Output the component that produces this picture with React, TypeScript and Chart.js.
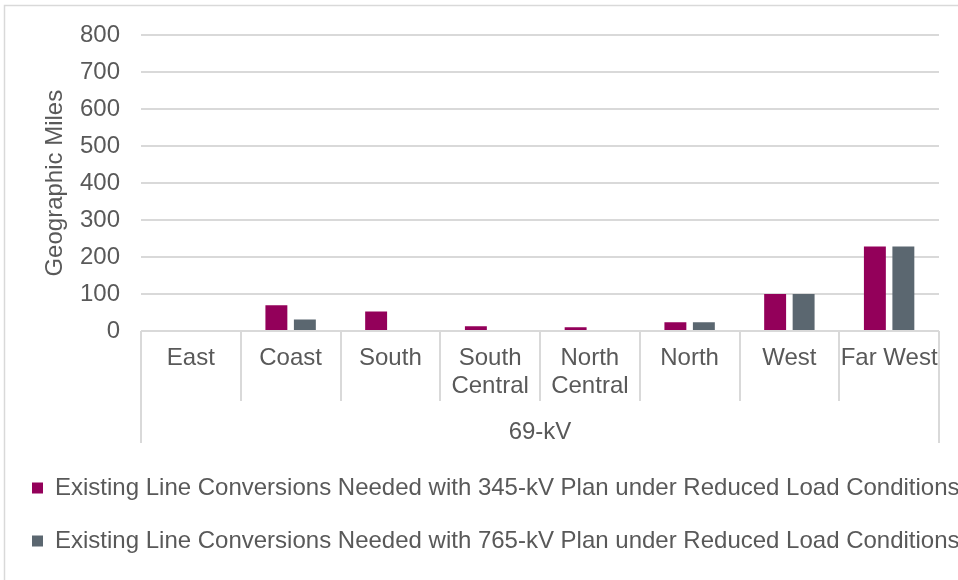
import React, { useEffect, useRef } from "react";
import { Chart, registerables } from "chart.js";

Chart.register(...registerables);

const categories: (string | string[])[] = [
  "East",
  "Coast",
  "South",
  ["South", "Central"],
  ["North", "Central"],
  "North",
  "West",
  "Far West",
];
const plan345: number[] = [0, 70, 53, 13, 10, 24, 100, 229];
const plan765: number[] = [0, 31, 0, 0, 0, 24, 100, 229];
const seriesNames: string[] = [
  "Existing Line Conversions Needed with 345-kV Plan under Reduced Load Conditions",
  "Existing Line Conversions Needed with 765-kV Plan under Reduced Load Conditions",
];
const groupLabel = "69-kV";
const yTitle = "Geographic Miles";
const yMin = 0;
const yMax = 800;
const yStep = 100;

const FONT = "'Liberation Sans', Arial, sans-serif";
const TEXT = "#595959";
const GRID = "#d9d9d9";

const frame = {
  id: "frame",
  beforeDraw(chart: any) {
    const ctx = chart.ctx;
    ctx.save();
    ctx.strokeStyle = GRID;
    ctx.lineWidth = 1.5;
    ctx.beginPath();
    ctx.moveTo(4.5, chart.height);
    ctx.lineTo(4.5, 5.5);
    ctx.lineTo(chart.width, 5.5);
    ctx.stroke();
    ctx.restore();
  },
  afterDraw(chart: any) {
    const x = chart.scales.x;
    const ctx = chart.ctx;
    const top = x.top;
    ctx.save();
    ctx.strokeStyle = GRID;
    ctx.lineWidth = 2;
    ctx.beginPath();
    for (let i = 1; i < categories.length; i++) {
      const px = Math.round((x.getPixelForValue(i - 1) + x.getPixelForValue(i)) / 2);
      ctx.moveTo(px, top);
      ctx.lineTo(px, top + 70);
    }
    ctx.moveTo(x.left, top);
    ctx.lineTo(x.left, top + 112);
    ctx.moveTo(x.right, top);
    ctx.lineTo(x.right, top + 112);
    ctx.stroke();
    ctx.restore();
  },
};

export default function App() {
  const ref = useRef<HTMLCanvasElement>(null);
  useEffect(() => {
    document.body.style.margin = "0";
    const chart = new Chart(ref.current!, {
      type: "bar",
      data: {
        labels: categories,
        datasets: [
          {
            label: seriesNames[0],
            data: plan345,
            backgroundColor: "#93005A",
            categoryPercentage: 0.571,
            barPercentage: 0.77,
          },
          {
            label: seriesNames[1],
            data: plan765,
            backgroundColor: "#5B6770",
            categoryPercentage: 0.571,
            barPercentage: 0.77,
          },
        ],
      },
      options: {
        animation: false,
        responsive: false,
        layout: { padding: { left: 3, right: 0, top: 34, bottom: 17 } },
        plugins: {
          tooltip: { enabled: false },
          legend: {
            position: "bottom",
            align: "start",
            labels: {
              boxWidth: 11,
              boxHeight: 11,
              padding: 29,
              color: TEXT,
              font: { family: FONT, size: 24 },
            },
          },
        },
        scales: {
          x: {
            grid: { display: false, drawTicks: false },
            border: { display: false },
            ticks: {
              color: TEXT,
              padding: 13,
              maxRotation: 0,
              autoSkip: false,
              font: { family: FONT, size: 24, lineHeight: 1.167 },
            },
            title: {
              display: true,
              text: groupLabel,
              color: TEXT,
              font: { family: FONT, size: 24 },
              padding: { top: 0, bottom: 0 },
            },
            afterFit(scale: any) {
              scale.height = 116;
            },
          },
          y: {
            min: yMin,
            max: yMax,
            grid: { color: GRID, lineWidth: 2, drawTicks: false },
            border: { display: false },
            ticks: {
              stepSize: yStep,
              color: TEXT,
              padding: 21,
              font: { family: FONT, size: 24 },
            },
            title: {
              display: true,
              text: yTitle,
              color: TEXT,
              font: { family: FONT, size: 24 },
              padding: { top: 38, bottom: 0 },
            },
            afterFit(scale: any) {
              scale.width = 138;
            },
          },
          yRight: {
            position: "right",
            min: yMin,
            max: yMax,
            grid: { display: false, drawTicks: false },
            border: { display: false },
            ticks: { display: false },
            afterFit(scale: any) {
              scale.width = 19;
            },
          },
        },
      },
      plugins: [frame],
    });
    return () => chart.destroy();
  }, []);
  return (
    <div style={{ width: 958, height: 580 }}>
      <canvas ref={ref} width={958} height={580} style={{ display: "block" }} />
    </div>
  );
}
